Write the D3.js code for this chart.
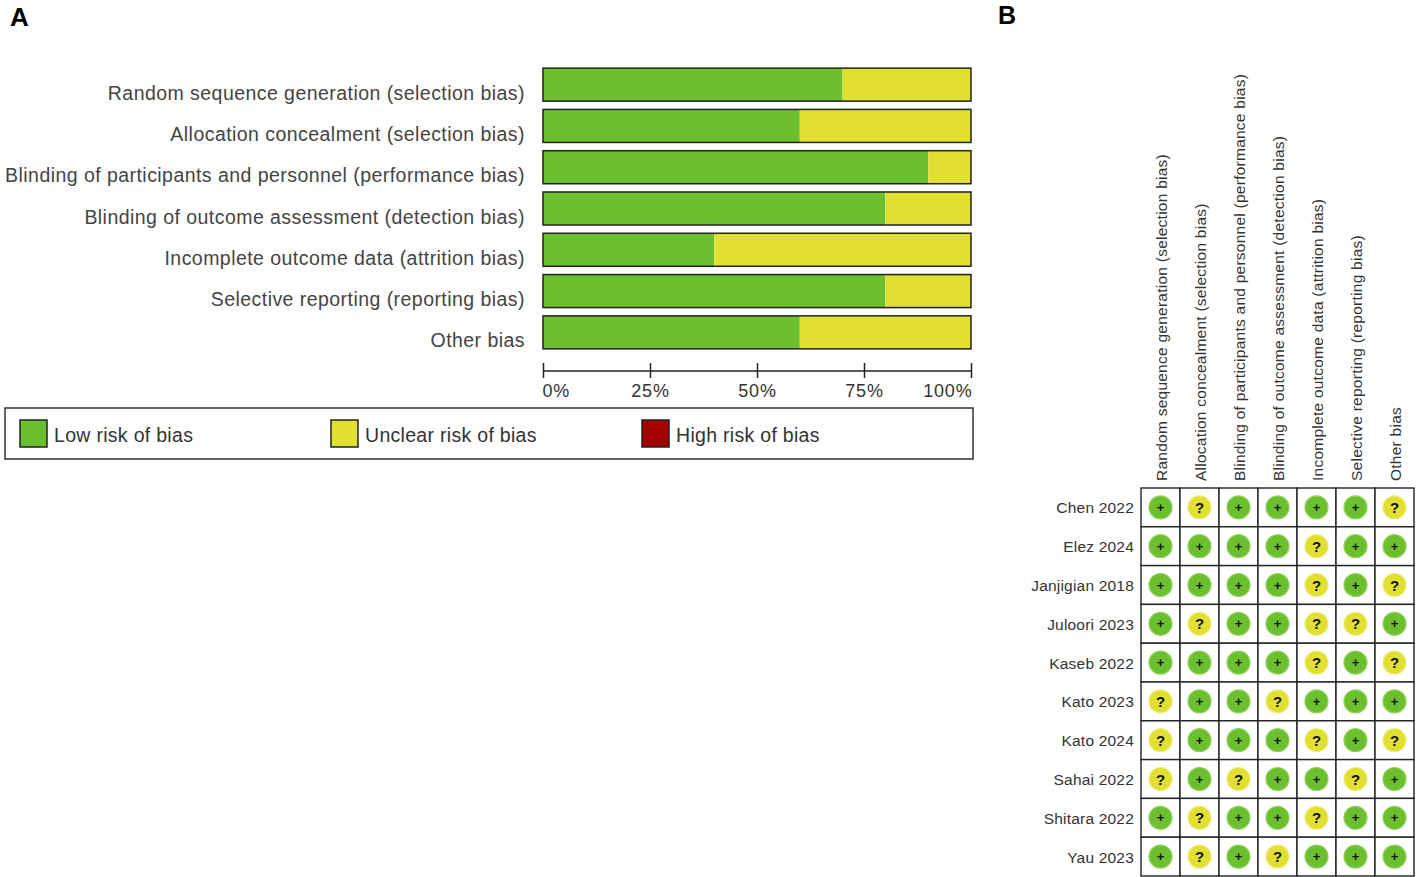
<!DOCTYPE html>
<html>
<head>
<meta charset="utf-8">
<script src="https://cdnjs.cloudflare.com/ajax/libs/d3/7.8.5/d3.min.js"></script>
<style>
  body { margin: 0; background: #fff; }
  svg { display: block; font-family: "Liberation Sans", Arial, sans-serif; }
</style>
</head>
<body>
<div id="chart"></div>
<script>
// domains (panel A rows, panel B columns)
const domains = [
  "Random sequence generation (selection bias)",
  "Allocation concealment (selection bias)",
  "Blinding of participants and personnel (performance bias)",
  "Blinding of outcome assessment (detection bias)",
  "Incomplete outcome data (attrition bias)",
  "Selective reporting (reporting bias)",
  "Other bias"
]
// percent of studies per judgement
const lowPct     = [70, 60, 90, 80, 40, 80, 60]
const unclearPct = [30, 40, 10, 20, 60, 20, 40]
const highPct    = [0, 0, 0, 0, 0, 0, 0]
const xTicks = [0, 25, 50, 75, 100]

const studies = ["Chen 2022", "Elez 2024", "Janjigian 2018", "Juloori 2023", "Kaseb 2022",
  "Kato 2023", "Kato 2024", "Sahai 2022", "Shitara 2022", "Yau 2023"]
// one string per study, one char per domain: + low, ? unclear, - high
const judgements = [
  "+?++++?",
  "++++?++",
  "++++?+?",
  "+?++??+",
  "++++?+?",
  "?++?+++",
  "?+++?+?",
  "?+?++?+",
  "+?++?++",
  "+?+?+++"
]

const legendLabels = ["Low risk of bias", "Unclear risk of bias", "High risk of bias"]
const colors = { low: "#6cbf2e", unclear: "#e2df33", high: "#a50000" }
const ringColors = { "+": "#8fd45a", "?": "#eeec7a", "-": "#c84040" }
const fillFor = { "+": colors.low, "?": colors.unclear, "-": colors.high }

const W = 1417, H = 877
const svg = d3.select("#chart").append("svg").attr("width", W).attr("height", H)

// ---- panel letters
svg.append("text").attr("x", 10).attr("y", 26).text("A")
  .attr("font-size", 26).attr("font-weight", "bold").attr("fill", "#000")
svg.append("text").attr("x", 998).attr("y", 24).text("B")
  .attr("font-size", 25).attr("font-weight", "bold").attr("fill", "#000")

// ---- panel A: stacked summary bars
const x = d3.scaleLinear().domain([0, 100]).range([543, 971])
const y = d3.scaleBand().domain(domains).range([64, 353]).paddingInner(0.2).paddingOuter(0.1)

const rows = domains.map((d, i) => ({
  name: d,
  parts: [
    { key: "low", v0: 0, v1: lowPct[i] },
    { key: "unclear", v0: lowPct[i], v1: lowPct[i] + unclearPct[i] },
    { key: "high", v0: lowPct[i] + unclearPct[i], v1: lowPct[i] + unclearPct[i] + highPct[i] }
  ]
}))

const barG = svg.append("g")
const rowG = barG.selectAll("g").data(rows).join("g")
rowG.selectAll("rect.part").data(d => d.parts.filter(p => p.v1 > p.v0).map(p => ({ ...p, name: d.name })))
  .join("rect").attr("class", "part")
  .attr("x", d => x(d.v0)).attr("width", d => x(d.v1) - x(d.v0))
  .attr("y", d => y(d.name)).attr("height", y.bandwidth())
  .attr("fill", d => colors[d.key])
rowG.append("rect")
  .attr("x", x(0)).attr("width", x(100) - x(0))
  .attr("y", d => y(d.name)).attr("height", y.bandwidth())
  .attr("fill", "none").attr("stroke", "#222").attr("stroke-width", 1.5)
rowG.append("text")
  .attr("x", 525).attr("y", d => y(d.name) + y.bandwidth() / 2 + 15)
  .attr("text-anchor", "end").attr("font-size", 19.5).attr("fill", "#444")
  .attr("letter-spacing", 0.45)
  .text(d => d.name)

// axis
const axis = svg.append("g").attr("transform", "translate(0,371)")
  .call(d3.axisBottom(x).tickValues(xTicks).tickSize(6).tickFormat(d => d + "%"))
axis.select(".domain").attr("stroke", "#222").attr("stroke-width", 1.5).attr("d", `M${x(0)},0H${x(100)}`)
axis.selectAll(".tick line").attr("y1", -8).attr("y2", 7).attr("stroke", "#222").attr("stroke-width", 1.5)
axis.selectAll(".tick text").attr("y", 26).attr("dy", 0).attr("font-size", 18)
  .attr("font-family", "Liberation Sans, Arial, sans-serif").attr("fill", "#333")
  .attr("letter-spacing", 0.8)
  .attr("text-anchor", d => d === 0 ? "start" : d === 100 ? "end" : "middle")
  .attr("dx", d => d === 0 ? -1 : d === 100 ? 1 : 0)

// legend
const leg = svg.append("g")
leg.append("rect").attr("x", 5).attr("y", 408).attr("width", 968).attr("height", 51)
  .attr("fill", "#fff").attr("stroke", "#333").attr("stroke-width", 1.5)
const legX = [20, 331, 642]
const legKeys = ["low", "unclear", "high"]
legendLabels.forEach((t, i) => {
  leg.append("rect").attr("x", legX[i]).attr("y", 420).attr("width", 27).attr("height", 27)
    .attr("fill", colors[legKeys[i]]).attr("stroke", "#222").attr("stroke-width", 1.5)
  leg.append("text").attr("x", legX[i] + 34).attr("y", 442).text(t)
    .attr("font-size", 19.5).attr("fill", "#333").attr("letter-spacing", 0.3)
})

// ---- panel B: traffic-light grid
const gx = d3.scaleBand().domain(domains).range([1141, 1414])
const gy = d3.scaleBand().domain(studies).range([488, 876])

const grid = svg.append("g")
const cells = []
studies.forEach((s, i) => domains.forEach((d, j) => cells.push({ s, d, v: judgements[i][j] })))

grid.selectAll("rect").data(cells).join("rect")
  .attr("x", d => gx(d.d)).attr("y", d => gy(d.s))
  .attr("width", gx.bandwidth()).attr("height", gy.bandwidth())
  .attr("fill", "#fff").attr("stroke", "#222").attr("stroke-width", 1.4)

const cellG = grid.selectAll("g.cell").data(cells).join("g").attr("class", "cell")
  .attr("transform", d => `translate(${gx(d.d) + gx.bandwidth() / 2},${gy(d.s) + gy.bandwidth() / 2})`)
cellG.append("circle").attr("r", 11.5)
  .attr("fill", d => fillFor[d.v]).attr("stroke", d => ringColors[d.v]).attr("stroke-width", 1.2)
cellG.append("text")
  .attr("text-anchor", "middle")
  .attr("y", d => d.v === "?" ? 5.5 : 4.5)
  .attr("font-size", d => d.v === "?" ? 15 : 13)
  .attr("font-weight", "bold").attr("fill", "#111")
  .text(d => d.v === "-" ? "\u2212" : d.v)

// column headers
svg.append("g").selectAll("text").data(domains).join("text")
  .attr("transform", d => `translate(${gx(d) + gx.bandwidth() / 2 + 6},481) rotate(-90)`)
  .attr("font-size", 15.5).attr("fill", "#333").attr("letter-spacing", 0.25)
  .text(d => d)

// row labels
svg.append("g").selectAll("text").data(studies).join("text")
  .attr("x", 1134).attr("y", d => gy(d) + gy.bandwidth() / 2 + 6)
  .attr("text-anchor", "end").attr("font-size", 15.5).attr("fill", "#333")
  .attr("letter-spacing", 0.2)
  .text(d => d)
</script>
</body>
</html>
